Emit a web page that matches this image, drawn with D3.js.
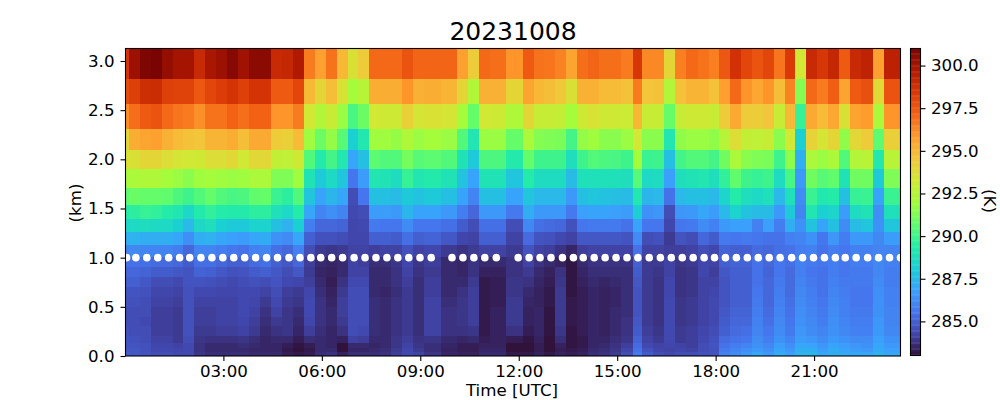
<!DOCTYPE html>
<html><head><meta charset="utf-8">
<script src="https://cdn.jsdelivr.net/npm/d3@7"></script>
<style>html,body{margin:0;padding:0;background:#fff}svg{display:block}
text{font-family:"DejaVu Sans",sans-serif;fill:#000}</style></head><body>
<svg id="c" width="1000" height="400"></svg>
<script>
const titleText = "20231008";
const xLabel = "Time [UTC]", yLabel = "(km)", cbLabel = "(K)";
const xTickLabels = ["03:00","06:00","09:00","12:00","15:00","18:00","21:00"];
const yTicks = [0,0.5,1,1.5,2,2.5,3];
const cbTicks = [285,287.5,290,292.5,295,297.5,300];
const turboStops = ["#30123b","#4145ab","#4675ed","#39a2fc","#1bcfd4","#24eca6","#61fc6c","#a4fc3b","#d1e834","#f3c63a","#fe9b2d","#f36315","#d93806","#b11901","#7a0403"];

// time edges of the columns, minutes after midnight
const timeEdges = [1,7,27,47,67,87,107,127,147,167,187,207,227,247,267,287,307,327,347,367,387,407,427,447,467,487,507,527,547,578,608,628,648,668,697,727,747,767,787,807,827,847,867,887,907,928,946,966,986,1006,1026,1047,1067,1087,1107,1127,1147,1167,1186,1206,1226,1246,1266,1286,1306,1326,1346,1367,1387,1418];
// height edges of the rows, km, from the top down
const heightEdges = [3.14,2.82,2.56,2.31,2.09,1.90,1.71,1.54,1.39,1.26,1.13,1.01,0.90,0.80,0.70,0.60,0.50,0.40,0.30,0.20,0.13,0.08,0.04,0];
// times of the white markers at 1 km, minutes after midnight
const markerTimes = [3,20,40,60,80,100,118.5,139,159,179,199,219,239,259,279,300,320,340,358,378,398,419,439,459,479,499,519,539.5,560,598,618,638,658,679,719,739,759,779,800,820,838,858,878,898,918,938,958.6,979,999,1019,1039,1059,1078,1098,1118,1138,1158,1178,1198,1219,1239,1259,1279,1299,1317,1337,1358,1378,1398,1418];

// temperature (K), one row per height band (top down), one value per column
const temperature = [
[298.6,300.2,300.9,301,300.4,300,300,299,299.9,300.2,300.7,300.1,300.6,300.6,299,299.1,299.7,296.6,295.7,296.8,295,293.6,294.4,297,297,297,297.6,297.1,297.1,297.1,295.7,294.4,297,296.9,296,297.4,296.8,296.7,296.4,295.6,296.9,297.1,296.9,296.9,296.6,298.5,296.3,296.3,294,296.5,297,296.8,296.5,297.5,298.7,298,297.6,298,296.7,298.4,293.3,299,298.5,299.1,297.4,299,299.3,295.7,299.4],
[297.8,298.2,298.8,298.9,298.2,298.1,298.1,297.5,298,298.3,298.6,298.2,298.6,298.6,297.4,297.4,298,295,294,294.8,293.5,292,292.5,295.3,295.3,295.3,296,295.2,295.3,295.1,294,292.4,295.2,295.2,294,295.6,295,294.8,294.5,293.6,295.2,295.2,294.9,294.9,294.7,296.6,294.6,294.7,292.4,294.7,295.1,295.1,294.7,295.7,297,296,295.5,296,294.8,296.4,291.4,297,296.6,297.3,295.6,297.4,297.7,293.8,297.6],
[296.2,296.9,297.4,297.6,297,296.7,296.6,296.1,296.8,296.8,297.2,296.9,297.2,297.2,296,296,296.6,293.3,292.4,293,291.8,290.2,290.9,293.3,293.2,293.2,294.2,293.4,293.5,293.4,292,290.8,293.3,293.2,292.3,294,293,293,292.9,292,293.2,293.5,293.2,293.2,293.1,295,293,293,290.8,293,293.2,293.2,293,294.3,295.4,294.4,294.3,294.6,293,295,289.8,295.4,294.9,295.5,293.6,295.6,295.8,292.2,296],
[293.9,295.3,295.6,295.7,295.2,294.9,294.7,294.6,295.1,295.1,295.3,294.8,295.4,295.4,294.4,294.2,294.9,291.9,290.9,291.7,290.5,288.2,289.2,291.9,291.9,291.7,292.3,291.8,292,291.8,290.4,289.1,291.8,291.8,290.8,292.2,291.4,291.3,291.2,290.1,291.7,291.9,291.5,291.5,291.8,293.3,291.5,291.5,289.1,291.6,291.8,291.8,291.6,292.5,293.7,292.9,292.8,293,291.5,293.3,288.2,294.1,293.4,294,291.6,293.9,294.4,290.6,294.2],
[293.5,293.6,294,294,293.7,293.4,293.3,293.2,293.7,293.7,293.9,293.3,293.9,293.9,292.9,292.8,293.2,290.4,289.3,290.1,289.2,287,287.7,290.6,290.4,290.4,291.1,290.5,290.6,290.4,289,288,290.3,290.3,289.3,290.8,290,290,290,288.8,290,290.4,290.3,290.2,290,292,289.9,290,287.7,290.1,290.4,290.4,290.1,291,292.2,291.5,291.3,291.2,290,291.6,287.2,292.2,291.8,292.2,290.4,292.4,292.6,289.2,292.6],
[292.1,292.2,292.3,292.3,292,291.8,291.5,291.9,292,291.9,291.8,291.9,292.2,292.2,291.3,291.3,291.9,289,288,288.6,287.9,285.6,286.7,289.1,289,288.7,289.8,289.1,289.3,289,287.8,286.9,289,289,287.9,289.4,288.7,288.7,288.7,287.6,288.9,288.9,288.9,288.9,288.8,290.5,288.6,288.7,286.8,288.8,289,289.1,288.8,289.7,290.7,290,289.8,290,288.7,290.2,286.6,291,290.5,290.7,289,291,291,288,291.3],
[290.6,290.9,290.8,290.8,290.7,290.3,290,290.4,290.8,290.4,290.2,290.3,290.7,290.8,289.9,289.6,290.4,287.9,286.9,287.4,287,284.5,285.6,287.7,287.7,287.6,288,287.8,288,287.7,286.9,286,287.7,287.7,286.9,287.9,287.5,287.5,287.5,286.6,287.7,287.9,287.8,287.7,287.6,289.2,287.4,287.5,285.5,287.5,287.7,287.7,287.5,288.4,289.4,288.8,288.6,288.9,287.5,288.9,286.2,289.9,289.2,289.4,287.7,289.8,289.9,286.9,289.9],
[289.4,289.6,289.8,289.7,289.4,289.1,288.5,289.3,289.7,289.4,289.3,289.3,289.6,289.6,288.9,288.6,289.4,287,286,286.3,286,284.4,284.5,286.7,286.7,286.6,287.4,286.9,286.9,286.6,285.8,285.2,286.6,286.6,285.7,287.2,286.6,286.6,286.6,285.7,286.8,286.9,286.9,286.8,286.7,288.2,286.4,286.5,284.5,286.5,286.6,287,286.7,287.5,288.3,287.8,287.6,287.6,286.6,288,286,289.1,288.2,288.4,286.7,288.7,289,286.3,288.9],
[288.5,288.6,288.7,288.6,288.6,288.2,287.5,288.5,288.8,288.2,288,288,288.3,288.3,287.7,287.3,288.2,285.8,285.2,285.2,285.1,284.3,284.4,285.7,285.6,285.6,286.2,285.6,285.6,285.4,284.9,284.5,285.4,285.4,284.5,286.1,285.4,285.3,285.2,284.6,285.6,285.7,285.7,285.7,285.5,286.9,285.6,285.6,284.3,285.6,285.7,286.2,285.9,286.6,286.8,286.8,285.9,286.8,285.8,287.2,286.4,287.8,286.9,287.7,286.2,287.6,287.9,286.4,287.9],
[287.2,287.3,287.2,287.2,287.2,287,286.3,287.2,287.3,287,286.8,286.7,287,287.1,286.4,286.2,287,285,284.6,284.6,284.5,284.3,284.3,285,285,284.9,285.4,285,285.1,284.8,284.3,284.2,285,285,284.2,285.3,284.7,284.6,284.4,284.2,284.8,284.8,284.8,284.8,284.7,286.2,284.5,284.6,284,284.7,284.5,285.2,284.9,285.7,285.6,285.7,285.6,285.5,285.5,285.9,286,286.4,285.6,286.5,285.8,286.6,286.6,286.1,286.7],
[286,286.1,286,286,286,285.8,285.2,286,286,285.8,285.6,285.5,285.9,286,285.4,285.2,285.9,284.5,284,283.9,284,284.2,284.2,284.1,284.2,284.2,284.6,284.2,284.3,284,283.8,284,284.2,284.2,284,284.7,284.2,284.1,283.8,283.5,284.1,284.2,284.2,284.2,284.2,285.5,284.2,284.2,284.1,284.1,284.2,284.5,284.3,285.1,285,285,285.3,285.2,285.4,285.5,285.8,285.9,285.5,285.8,285.6,285.9,285.9,286,286],
[285.5,285.5,285.4,285.3,285.3,285.2,284.9,285.4,285.4,285.2,285,285,285.3,285.4,285,284.8,285.2,284.1,283.6,283.5,283.6,284.2,284.1,283.7,283.7,283.9,284.3,283.9,284.1,283.6,283.5,283.8,283.6,283.6,283.8,284.2,283.8,283.6,283.4,283.1,283.6,283.8,283.8,283.8,283.8,285,284,284,284.2,283.9,284,284.3,284.2,285,285.1,285.1,285.5,285.2,285.6,285.4,285.9,285.7,285.6,285.8,285.6,285.8,285.8,286.1,285.9],
[285.2,285.2,285.1,284.9,284.9,284.8,284.7,285.1,285,284.8,284.6,284.7,284.9,285,284.8,284.5,284.8,284,283.5,283.4,283.6,284.2,284.2,283.6,283.6,283.8,284.2,283.8,284,283.6,283.5,283.8,283.4,283.4,283.8,284,283.6,283.4,283.8,283.1,283.5,283.7,283.7,283.7,283.7,284.9,284,283.9,284.2,283.8,283.9,284.3,284.1,284.8,285,285,285.5,285.1,285.6,285.3,285.9,285.6,285.5,285.8,285.6,285.7,285.7,286.1,285.8],
[285,285,284.8,284.5,284.5,284.4,284.7,284.7,284.6,284.5,284.4,284.5,284.6,284.5,284.7,284.4,284.3,284.1,283.6,283.3,283.8,284.4,284.4,283.6,283.6,283.8,284.1,283.7,284.1,283.6,283.6,284,283.2,283.3,283.9,283.8,283.5,283.3,283.9,283.1,283.4,283.6,283.5,283.6,283.7,284.8,284,283.8,284.3,283.8,283.9,284.2,284.2,284.7,285,285,285.5,285.2,285.7,285.3,286,285.7,285.5,285.9,285.7,285.7,285.7,286.2,285.8],
[284.7,284.7,284.6,284.3,284.3,284.2,284.6,284.4,284.4,284.3,284.3,284.4,284.4,284.2,284.5,284.1,284,284.3,283.7,283.4,284,284.5,284.5,283.6,283.5,283.7,284,283.7,284.1,283.6,283.8,284.1,283.2,283.3,283.9,283.6,283.4,283.2,284,283.1,283.3,283.5,283.4,283.5,283.7,284.7,284,283.8,284.3,283.8,283.9,284.2,284.3,284.7,285,285,285.6,285.2,285.8,285.3,286.1,285.8,285.5,286,285.8,285.6,285.6,286.3,285.9],
[284.6,284.6,284.5,284.2,284.2,284.1,284.6,284.2,284.2,284.2,284.2,284.4,284.3,284,284.4,284,283.9,284.4,283.8,283.5,284.1,284.5,284.5,283.7,283.6,283.8,284,283.7,284.2,283.7,283.9,284.1,283.2,283.3,284,283.5,283.4,283.2,284,283.2,283.3,283.5,283.4,283.5,283.7,284.7,284,283.8,284.4,283.9,284,284.2,284.4,284.7,285,285,285.7,285.2,285.9,285.4,286.2,285.9,285.6,286.1,285.9,285.6,285.6,286.4,285.9],
[284.5,284.5,284.5,284.1,284.1,284,284.6,284.1,284.1,284.2,284.2,284.4,284.2,283.8,284.2,283.9,283.7,284.4,283.8,283.6,284.1,284.5,284.5,283.7,283.6,283.8,284,283.7,284.2,283.8,283.9,284.1,283.2,283.4,284,283.4,283.5,283.1,284,283.2,283.3,283.5,283.4,283.6,283.7,284.7,284,283.8,284.4,283.9,284,284.2,284.4,284.8,285.1,285.1,285.8,285.3,286,285.5,286.3,286,285.7,286.2,285.9,285.7,285.7,286.4,286],
[284.5,284.5,284.4,284.1,284.1,284,284.6,284.1,284.1,284.2,284.2,284.3,284.1,283.7,284,283.9,283.6,284.3,283.8,283.6,284,284.5,284.5,283.7,283.6,283.8,284,283.7,284.2,283.8,283.9,284.1,283.2,283.4,284,283.4,283.5,283.1,284,283.2,283.3,283.5,283.4,283.6,283.8,284.8,284,283.8,284.4,283.9,284,284.2,284.4,284.9,285.2,285.2,285.9,285.4,286.1,285.6,286.4,286.1,285.8,286.3,286,285.8,285.8,286.5,286],
[284.6,284.5,284.5,284.1,284.1,284,284.6,284,284,284.1,284.1,284.2,284,283.6,283.8,283.9,283.5,284.1,283.7,283.5,283.8,284.5,284.4,283.7,283.6,283.8,284,283.7,284.2,283.8,283.8,283.9,283.2,283.4,283.8,283.3,283.5,283.1,283.9,283.1,283.3,283.5,283.4,283.6,283.8,284.9,284.1,283.9,284.4,284,284.1,284.3,284.5,285,285.3,285.4,286,285.6,286.2,285.7,286.5,286.2,286,286.4,286.1,285.9,285.9,286.6,286.1],
[284.7,284.6,284.5,284.2,284.2,284,284.5,283.9,283.8,283.8,283.8,283.9,283.7,283.5,283.6,283.6,283.3,283.7,283.6,283.5,283.4,284.2,284.1,283.6,283.6,283.9,284.1,283.8,283.9,283.6,283.5,283.6,283.3,283.4,283.3,283.1,283.4,283,283.7,283.1,283.2,283.5,283.5,283.7,283.9,285.1,284.2,284,284.4,284,284.1,284.4,284.6,285.3,285.5,285.6,286.2,285.8,286.4,286,286.7,286.5,286.2,286.6,286.4,286.2,286.2,286.8,286.4],
[284.7,284.7,284.6,284.3,284.3,284.2,284.4,283.8,283.6,283.6,283.6,283.7,283.6,283.5,283.5,283.3,283.1,283.3,283.6,283.5,283,283.6,283.6,283.5,283.6,283.9,284.2,283.9,283.7,283.5,283.3,283.3,283.4,283.4,283,283,283.3,283,283.4,283.1,283.2,283.5,283.6,283.8,284.1,285.3,284.4,284.2,284.3,284.2,284.1,284.5,284.7,285.5,285.8,286,286.4,286.1,286.7,286.3,287,286.9,286.5,286.9,286.7,286.5,286.4,287,286.6],
[284.8,284.8,284.6,284.4,284.4,284.3,284.4,283.8,283.6,283.6,283.6,283.6,283.5,283.5,283.5,283.2,283,283.2,283.6,283.6,283,283.5,283.5,283.6,283.7,284,284.3,284,283.7,283.4,283.3,283.3,283.5,283.5,283,283,283.3,283,283.3,283.2,283.3,283.6,283.7,283.9,284.3,285.5,284.6,284.3,284.2,284.3,284.2,284.5,284.6,285.7,286,286.3,286.6,286.3,286.9,286.5,287.2,287.2,286.7,287.1,286.9,286.7,286.6,287.1,286.8],
[284.9,284.8,284.7,284.5,284.5,284.4,284.4,283.9,283.7,283.7,283.7,283.7,283.6,283.6,283.6,283.3,283.2,283.3,283.7,283.8,283.4,283.7,283.7,283.7,283.8,284.1,284.4,284.2,283.9,283.5,283.4,283.4,283.6,283.6,283.2,283.2,283.4,283.2,283.4,283.3,283.4,283.7,283.8,284,284.5,285.7,284.9,284.5,284.4,284.5,284.5,284.6,284.7,285.9,286.2,286.6,287,286.6,287.1,286.8,287.3,287.4,287,287.2,287.1,287,287,287.3,287]
];

const tempDomain = [283,301], markerHeight = 1;
const L=125.5,R=900.5,T=48.5,B=356, CL=910.5,CR=920.5;
const FS=16.67;
const svg=d3.select("#c");
const x=d3.scaleLinear().domain([1,1418]).range([L,R]);
const y=d3.scaleLinear().domain([0,3.127]).range([B,T]);
const tDom=d3.scaleLinear().domain(tempDomain).range([0,1]);
const turbo=d3.scaleLinear().domain(turboStops.map((_,i)=>i/(turboStops.length-1))).range(turboStops).interpolate(d3.interpolateRgb);
const colour=v=>turbo(Math.max(0,Math.min(1,tDom(v))));

const defs=svg.append("defs");
defs.append("clipPath").attr("id","plot").append("rect").attr("x",L).attr("y",T).attr("width",R-L).attr("height",B-T);
const plot=svg.append("g").attr("clip-path","url(#plot)");
const cells=temperature.flatMap((row,r)=>row.map((v,c)=>({r,c,v})));
plot.selectAll("rect.cell").data(cells).join("rect").attr("class","cell")
  .attr("x",d=>x(timeEdges[d.c])).attr("width",d=>x(timeEdges[d.c+1])-x(timeEdges[d.c]))
  .attr("y",d=>y(heightEdges[d.r])).attr("height",d=>y(heightEdges[d.r+1])-y(heightEdges[d.r]))
  .attr("fill",d=>colour(d.v)).attr("shape-rendering","crispEdges");
plot.selectAll("circle").data(markerTimes).join("circle")
  .attr("cx",d=>x(d)).attr("cy",y(markerHeight)).attr("r",3.8).attr("fill","#fff");

function style(g){
  g.selectAll(".domain").remove();
  g.selectAll(".tick line").attr("stroke","#000").attr("stroke-width",1.1);
  g.selectAll(".tick text").attr("font-size",FS).attr("font-family","DejaVu Sans").attr("fill","#000");
}
const xt=xTickLabels.map(s=>{const [h,m]=s.split(":");return +h*60+ +m;});
svg.append("g").attr("transform",`translate(0,${B})`)
  .call(d3.axisBottom(x).tickValues(xt).tickFormat((d,i)=>xTickLabels[i]).tickSize(5).tickPadding(4.5)).call(style);
svg.append("g").attr("transform",`translate(${L},0)`)
  .call(d3.axisLeft(y).tickValues(yTicks).tickFormat(d3.format(".1f")).tickSize(5).tickPadding(6)).call(style);

svg.append("rect").attr("x",L).attr("y",T).attr("width",R-L).attr("height",B-T)
  .attr("fill","none").attr("stroke","#000").attr("stroke-width",1.1);

// colour bar
const cy=d3.scaleLinear().domain(tempDomain).range([355.5,48.5]);
const steps=d3.range(tempDomain[0],tempDomain[1],(tempDomain[1]-tempDomain[0])/256);
svg.append("g").selectAll("rect").data(steps).join("rect")
  .attr("x",CL).attr("width",CR-CL).attr("y",d=>cy(d)-1.3).attr("height",1.6).attr("fill",d=>colour(d+0.035));
svg.append("rect").attr("x",CL).attr("y",48.5).attr("width",CR-CL).attr("height",307)
  .attr("fill","none").attr("stroke","#000").attr("stroke-width",1.1);
svg.append("g").attr("transform",`translate(${CR},0)`)
  .call(d3.axisRight(cy).tickValues(cbTicks).tickFormat(d3.format(".1f")).tickSize(5).tickPadding(5.5)).call(style);

svg.append("text").attr("x",513).attr("y",40).attr("text-anchor","middle").attr("font-size",25).text(titleText);
svg.append("text").attr("x",512).attr("y",396).attr("text-anchor","middle").attr("font-size",FS).text(xLabel);
svg.append("text").attr("transform","translate(81,203) rotate(-90)").attr("text-anchor","middle").attr("font-size",FS).text(yLabel);
svg.append("text").attr("transform","translate(984,201) rotate(90)").attr("text-anchor","middle").attr("font-size",FS).text(cbLabel);
</script></body></html>
